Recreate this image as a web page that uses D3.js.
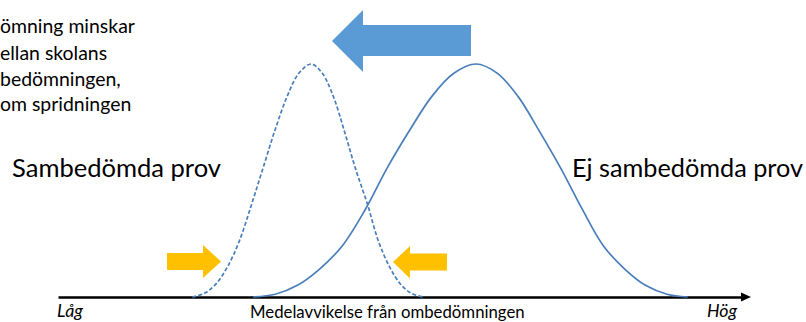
<!DOCTYPE html>
<html>
<head>
<meta charset="utf-8">
<script src="https://cdn.jsdelivr.net/npm/d3@7"></script>
<style>
  body { margin: 0; background: #fff; }
  svg { display: block; }
</style>
</head>
<body id="viz">
<script>
// Data (x = position along the axis 0..100, y = relative height 0..1)
var samb_x = [19.4, 21.1, 22.8, 24.5, 26.2, 28.0, 29.7, 31.4, 33.1, 34.8, 36.6, 38.2, 39.8, 41.4, 43.0, 44.7, 46.3, 47.9, 49.5, 51.1, 52.7]
var samb_y = [0, 0.015, 0.055, 0.13, 0.24, 0.40, 0.56, 0.72, 0.86, 0.96, 1.0, 0.96, 0.86, 0.71, 0.55, 0.40, 0.24, 0.13, 0.055, 0.015, 0]

var ej_x = [28.2, 31.4, 34.6, 37.8, 41.1, 44.3, 47.5, 50.7, 54.0, 57.2, 60.4, 63.5, 66.5, 69.6, 72.7, 75.7, 78.8, 81.9, 84.9, 88.0, 91.0]
var ej_y = [0, 0.012, 0.05, 0.12, 0.22, 0.37, 0.55, 0.71, 0.86, 0.96, 1.0, 0.96, 0.86, 0.71, 0.55, 0.38, 0.22, 0.12, 0.05, 0.012, 0]

// Texts
var group_labels = ["Sambedömda prov", "Ej sambedömda prov"]
var end_labels = ["Låg", "Hög"]
var axis_title = "Medelavvikelse från ombedömningen"
var note_lines = ["ömning minskar", "ellan skolans", "bedömningen,", "om spridningen"]

// Consts
svg_width = 806
svg_height = 322
axis_y = 297
curve_color = "#4a7ebb"
curve_width = 1.7
font = "Lato, 'Open Sans', sans-serif"

svg = d3.select("body#viz")
  .append("svg")
  .attr("width", svg_width)
  .attr("height", svg_height)

var x = d3.scaleLinear().domain([0, 100]).range([58, 750])
var y = d3.scaleLinear().domain([0, 1]).range([axis_y, 64])

// scale the font so the text gets the width it has in the picture
function fitText(sel, target) {
  var w = sel.node().getComputedTextLength()
  var fs = parseFloat(sel.style("font-size"))
  sel.style("font-size", (fs * target / w) + "px")
}

////// Axis ////////
var x_axis = x.copy().range([x(0), x(100) - 7])
var axis_g = svg.append("g")
  .attr("transform", "translate(0," + axis_y + ")")
  .call(d3.axisBottom(x_axis).tickValues([]).tickSizeOuter(0))
axis_g.select(".domain")
  .attr("stroke", "#000")
  .attr("stroke-width", 2.6)

svg.append("polygon")
  .attr("points", [[x(100) - 9, axis_y - 4.5], [x(100) + 1, axis_y], [x(100) - 9, axis_y + 4.5]].join(" "))
  .attr("fill", "#000")

////// Curves ////////
var line = d3.line()
  .x(function(d) { return x(d[0]) })
  .y(function(d) { return Math.min(y(d[1]), axis_y) })
  .curve(d3.curveCatmullRom.alpha(0.5))

svg.append("path")
  .datum(d3.zip(ej_x, ej_y))
  .attr("d", line)
  .attr("fill", "none")
  .attr("stroke", curve_color)
  .attr("stroke-width", curve_width)

svg.append("path")
  .datum(d3.zip(samb_x, samb_y))
  .attr("d", line)
  .attr("fill", "none")
  .attr("stroke", curve_color)
  .attr("stroke-width", curve_width)
  .attr("stroke-dasharray", "4,2.2")

////// Arrows ////////
// big blue arrow pointing left
svg.append("polygon")
  .attr("points", [[332, 41], [363, 10], [363, 25], [471, 25], [471, 56], [363, 56], [363, 72]].join(" "))
  .attr("fill", "#5b9bd5")

// yellow arrows squeezing the spread
svg.append("polygon")
  .attr("points", [[167, 253], [203, 253], [203, 245], [221, 261.5], [203, 278], [203, 270], [167, 270]].join(" "))
  .attr("fill", "#ffc000")
svg.append("polygon")
  .attr("points", [[447, 253.5], [410, 253.5], [410, 246], [393, 262], [410, 278.5], [410, 270.5], [447, 270.5]].join(" "))
  .attr("fill", "#ffc000")

////// Texts ////////
var g1 = svg.append("text")
  .attr("x", 12).attr("y", 177)
  .style("font-family", font).style("font-size", "28px").style("fill", "#000")
  .text(group_labels[0])
fitText(g1, 209)

var g2 = svg.append("text")
  .attr("x", 572).attr("y", 177)
  .style("font-family", font).style("font-size", "28px").style("fill", "#000")
  .text(group_labels[1])
fitText(g2, 231)

var at = svg.append("text")
  .attr("x", 250).attr("y", 318)
  .style("font-family", font).style("font-size", "16px").style("fill", "#000")
  .text(axis_title)
fitText(at, 275)

var lo = svg.append("text")
  .attr("x", 57).attr("y", 317)
  .style("font-family", font).style("font-size", "16px").style("font-style", "italic")
  .text(end_labels[0])
fitText(lo, 26)
var hi = svg.append("text")
  .attr("x", 707).attr("y", 317)
  .style("font-family", font).style("font-size", "16px").style("font-style", "italic")
  .text(end_labels[1])
fitText(hi, 30)

// note in the top left corner (cut at the edge in the picture)
var note_base = [33, 59.5, 85.5, 111]
var note = svg.append("g")
note.selectAll("text")
  .data(note_lines)
  .enter().append("text")
    .attr("x", 0)
    .attr("y", function(d, i) { return note_base[i] })
    .style("font-family", font)
    .style("font-size", "17px")
    .style("fill", "#000")
    .text(function(d) { return d })
var n1 = note.select("text")
var k = 135 / n1.node().getComputedTextLength()
note.selectAll("text").style("font-size", (17 * k) + "px")
</script>
</body>
</html>
